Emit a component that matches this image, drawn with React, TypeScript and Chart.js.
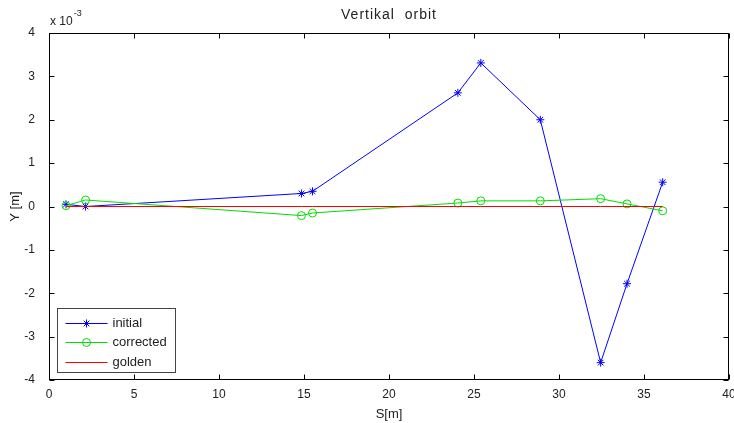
import React, { useEffect, useRef } from 'react';
import { Chart, registerables } from 'chart.js';

Chart.register(...registerables);

// Positions along the ring S [m]
const S_POS = [1.0, 2.15, 14.85, 15.5, 24.05, 25.4, 28.9, 32.45, 34.0, 36.1];
// Vertical orbit Y [m] in units of 1e-3
const INITIAL = [0.05, 0.0, 0.3, 0.35, 2.62, 3.31, 2.0, -3.6, -1.78, 0.56];
const CORRECTED = [0.02, 0.15, -0.21, -0.15, 0.08, 0.13, 0.13, 0.18, 0.06, -0.1];
const GOLDEN = [0, 0, 0, 0, 0, 0, 0, 0, 0, 0];

const X_TICKS = [0, 5, 10, 15, 20, 25, 30, 35, 40];
const Y_TICKS = [-4, -3, -2, -1, 0, 1, 2, 3, 4];

const TITLE = 'Vertikal  orbit';
const FONT = '"Liberation Sans", Arial, sans-serif';
const TEXT = '#222';

const framePlugin = {
  id: 'frame',
  afterDraw(chart: any) {
    const { ctx, chartArea: a, scales } = chart;
    ctx.save();
    ctx.strokeStyle = '#000';
    ctx.lineWidth = 1;
    const l = Math.round(a.left) + 0.5;
    const r = Math.round(a.right) - 0.5;
    const t = Math.round(a.top) + 0.5;
    const b = Math.round(a.bottom) - 0.5;
    ctx.strokeRect(l, t, r - l, b - t);
    const L = 5;
    ctx.beginPath();
    for (const v of X_TICKS) {
      const x = Math.round(scales.x.getPixelForValue(v)) + 0.5;
      ctx.moveTo(x, b);
      ctx.lineTo(x, b - L);
      ctx.moveTo(x, t);
      ctx.lineTo(x, t + L);
    }
    for (const v of Y_TICKS) {
      const y = Math.round(scales.y.getPixelForValue(v)) + 0.5;
      ctx.moveTo(l, y);
      ctx.lineTo(l + L, y);
      ctx.moveTo(r, y);
      ctx.lineTo(r - L, y);
    }
    ctx.stroke();

    // title centred over the axes
    ctx.fillStyle = TEXT;
    ctx.textAlign = 'center';
    ctx.textBaseline = 'middle';
    ctx.font = '14px ' + FONT;
    try { (ctx as any).letterSpacing = '1px'; } catch (e) {}
    ctx.fillText(TITLE, (a.left + a.right) / 2, 15);
    try { (ctx as any).letterSpacing = '0px'; } catch (e) {}

    // exponent label
    ctx.textAlign = 'left';
    ctx.font = '12px ' + FONT;
    ctx.fillText('x 10', l + 0.5, 22);
    const w = ctx.measureText('x 10').width;
    ctx.font = '9px ' + FONT;
    ctx.fillText('-3', l + 1.5 + w, 14);

    // legend
    const bx = Math.round(a.left) + 8.5;
    const by = Math.round(a.bottom) - 71.5;
    const bw = 118;
    const bh = 64;
    ctx.fillStyle = '#fff';
    ctx.fillRect(bx, by, bw, bh);
    ctx.strokeStyle = '#444';
    ctx.strokeRect(bx, by, bw, bh);
    ctx.font = '13px ' + FONT;
    chart.data.datasets.forEach((ds: any, i: number) => {
      const cy = Math.round(by + 14 + i * 19.7) + 0.5;
      const x0 = bx + 8;
      const x1 = bx + 50;
      const xm = (x0 + x1) / 2;
      ctx.strokeStyle = ds.borderColor;
      ctx.lineWidth = 1;
      ctx.beginPath();
      ctx.moveTo(x0, cy);
      ctx.lineTo(x1, cy);
      ctx.stroke();
      if (ds.pointStyle === 'star') {
        const rr = 4;
        ctx.beginPath();
        ctx.moveTo(xm - rr, cy);
        ctx.lineTo(xm + rr, cy);
        ctx.moveTo(xm, cy - rr);
        ctx.lineTo(xm, cy + rr);
        const d = rr * Math.SQRT1_2;
        ctx.moveTo(xm - d, cy - d);
        ctx.lineTo(xm + d, cy + d);
        ctx.moveTo(xm - d, cy + d);
        ctx.lineTo(xm + d, cy - d);
        ctx.stroke();
      } else if (ds.pointStyle === 'circle' && ds.pointRadius > 0) {
        ctx.beginPath();
        ctx.arc(xm, cy, ds.pointRadius, 0, Math.PI * 2);
        ctx.stroke();
      }
      ctx.fillStyle = TEXT;
      ctx.textAlign = 'left';
      ctx.textBaseline = 'middle';
      ctx.fillText(ds.label, bx + 55, cy);
    });
    ctx.restore();
  },
};

export default function App() {
  const ref = useRef<HTMLCanvasElement>(null);

  useEffect(() => {
    if (!ref.current) return;
    const mk = (arr: number[]) => S_POS.map((s, i) => ({ x: s, y: arr[i] }));
    const chart = new Chart(ref.current, {
      type: 'scatter',
      data: {
        datasets: [
          {
            label: 'initial',
            data: mk(INITIAL),
            showLine: true,
            borderColor: '#0000ff',
            backgroundColor: '#0000ff',
            borderWidth: 1,
            pointStyle: 'star',
            pointRadius: 4,
            pointBorderWidth: 1,
            order: 2,
          },
          {
            label: 'corrected',
            data: mk(CORRECTED),
            showLine: true,
            borderColor: '#00dd00',
            backgroundColor: 'rgba(0,0,0,0)',
            borderWidth: 1,
            pointStyle: 'circle',
            pointRadius: 4,
            pointBorderWidth: 1,
            order: 1,
          },
          {
            label: 'golden',
            data: mk(GOLDEN),
            showLine: true,
            borderColor: '#ff0000',
            backgroundColor: '#ff0000',
            borderWidth: 1,
            pointRadius: 0,
            pointStyle: 'line',
            order: 0,
          },
        ],
      } as any,
      options: {
        animation: false,
        responsive: false,
        devicePixelRatio: 1,
        layout: { padding: { top: 33, right: 3, left: 0, bottom: 0 } },
        plugins: {
          legend: { display: false },
          tooltip: { enabled: false },
          title: { display: false },
        },
        scales: {
          x: {
            type: 'linear',
            min: 0,
            max: 40,
            grid: { display: false },
            border: { display: false },
            ticks: { padding: -1, color: TEXT, font: { family: FONT, size: 12 }, maxRotation: 0, autoSkip: false },
            afterBuildTicks: (s: any) => {
              s.ticks = X_TICKS.map((v) => ({ value: v }));
            },
            afterFit: (s: any) => {
              s.height = 43;
              s.paddingLeft = 0;
              s.paddingRight = 0;
            },
            title: {
              display: true,
              text: 'S[m]',
              color: TEXT,
              font: { family: FONT, size: 13 },
              padding: { top: 0, bottom: 1 },
            },
          },
          y: {
            type: 'linear',
            min: -4,
            max: 4,
            grid: { display: false },
            border: { display: false },
            ticks: { padding: 6, color: TEXT, font: { family: FONT, size: 12 }, autoSkip: false },
            afterBuildTicks: (s: any) => {
              s.ticks = Y_TICKS.map((v) => ({ value: v }));
            },
            afterFit: (s: any) => {
              s.width = 49;
              s.paddingTop = 0;
              s.paddingBottom = 0;
            },
            title: {
              display: true,
              text: 'Y [m]',
              color: TEXT,
              font: { family: FONT, size: 13 },
              padding: { top: 8, bottom: 0 },
            },
          },
        },
      } as any,
      plugins: [framePlugin],
    });
    return () => chart.destroy();
  }, []);

  return (
    <div style={{ position: 'fixed', left: 0, top: 0, width: 734, height: 423, background: '#fff' }}>
      <canvas ref={ref} width={734} height={423} style={{ display: 'block' }} />
    </div>
  );
}
